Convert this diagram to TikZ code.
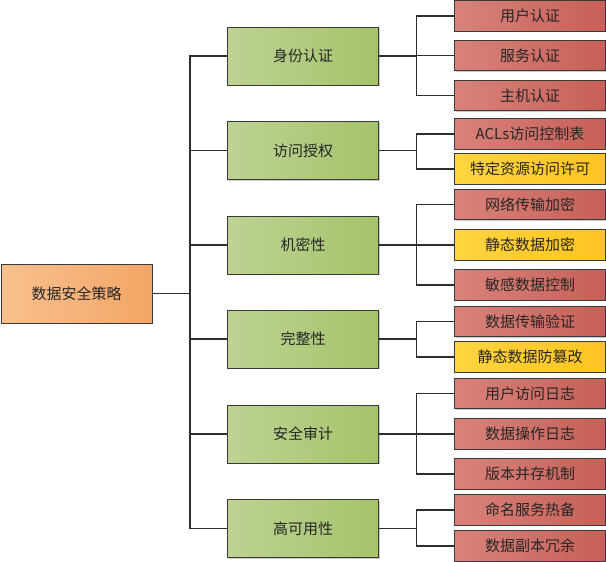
\documentclass[tikz,border=0pt]{standalone}
\usepackage{fontspec}
\setmainfont{Noto Sans CJK SC}
\usetikzlibrary{shadows}
\definecolor{edgegray}{HTML}{3A3A3A}
\definecolor{linegray}{HTML}{2E2E2E}
\begin{document}
\begin{tikzpicture}[x=1pt, y=-1pt,
  box/.style={draw=edgegray, line width=1pt, minimum width=151pt, inner sep=0pt,
    font=\fontsize{15}{18}\selectfont, text=black!85,
    drop shadow={shadow xshift=1.2pt, shadow yshift=-1.2pt, opacity=.35, fill=black!60}},
  rootbox/.style={box, minimum height=59pt, left color=orange!35!white!80!orange, right color=orange!70!yellow!60!white},
  midbox/.style={box, minimum height=58pt, left color=green!40!olive!35!white, right color=green!45!olive!60!white},
  redbox/.style={box, minimum height=30.5pt, left color=red!55!white!90!black, right color=red!65!white!80!black},
  yelbox/.style={box, minimum height=30.5pt, left color=yellow!85!orange, right color=yellow!60!orange},
  link/.style={draw=linegray, line width=1.6pt}]
\useasboundingbox (0,0) rectangle (606,562);
% raiz
\node[rootbox, left color={rgb,255:red,249;green,192;blue,142}, right color={rgb,255:red,243;green,166;blue,102}] (root) at (76.5,293.5) {数据安全策略};
% nivel 1
\tikzset{midbox/.append style={left color={rgb,255:red,190;green,210;blue,148}, right color={rgb,255:red,165;green,195;blue,105}}}
\node[midbox] (auth) at (303,56) {身份认证};
\node[midbox] (acc) at (303,150.5) {访问授权};
\node[midbox] (conf) at (303,245) {机密性};
\node[midbox] (integ) at (303,339) {完整性};
\node[midbox] (audit) at (303,434) {安全审计};
\node[midbox] (avail) at (303,528.5) {高可用性};
% folhas
\tikzset{redbox/.append style={left color={rgb,255:red,217;green,130;blue,122}, right color={rgb,255:red,198;green,96;blue,88}},
  yelbox/.append style={left color={rgb,255:red,255;green,212;blue,64}, right color={rgb,255:red,255;green,196;blue,32}}}
\node[redbox] (auth1) at (530,16) {用户认证};
\node[redbox] (auth2) at (530,55.5) {服务认证};
\node[redbox] (auth3) at (530,95.5) {主机认证};
\node[redbox] (acc1) at (530,134) {ACLs访问控制表};
\node[yelbox] (acc2) at (530,169) {特定资源访问许可};
\node[redbox] (conf1) at (530,204.5) {网络传输加密};
\node[yelbox] (conf2) at (530,245) {静态数据加密};
\node[redbox] (conf3) at (530,285) {敏感数据控制};
\node[redbox] (integ1) at (530,321.5) {数据传输验证};
\node[yelbox] (integ2) at (530,357) {静态数据防篡改};
\node[redbox] (audit1) at (530,393.5) {用户访问日志};
\node[redbox] (audit2) at (530,434) {数据操作日志};
\node[redbox] (audit3) at (530,474) {版本并存机制};
\node[redbox] (avail1) at (530,510) {命名服务热备};
\node[redbox] (avail2) at (530,546) {数据副本冗余};
% tronco
\foreach \m in {auth,acc,conf,integ,audit,avail}
  \draw[link] (root.east) -- ++(37.5,0) |- (\m.west);
% ramos
\foreach \m/\f in {auth/auth1,auth/auth2,auth/auth3,acc/acc1,acc/acc2,conf/conf1,conf/conf2,conf/conf3,
  integ/integ1,integ/integ2,audit/audit1,audit/audit2,audit/audit3,avail/avail1,avail/avail2}
  \draw[link] (\m.east) -- ++(37.5,0) |- (\f.west);
\end{tikzpicture}
\end{document}
